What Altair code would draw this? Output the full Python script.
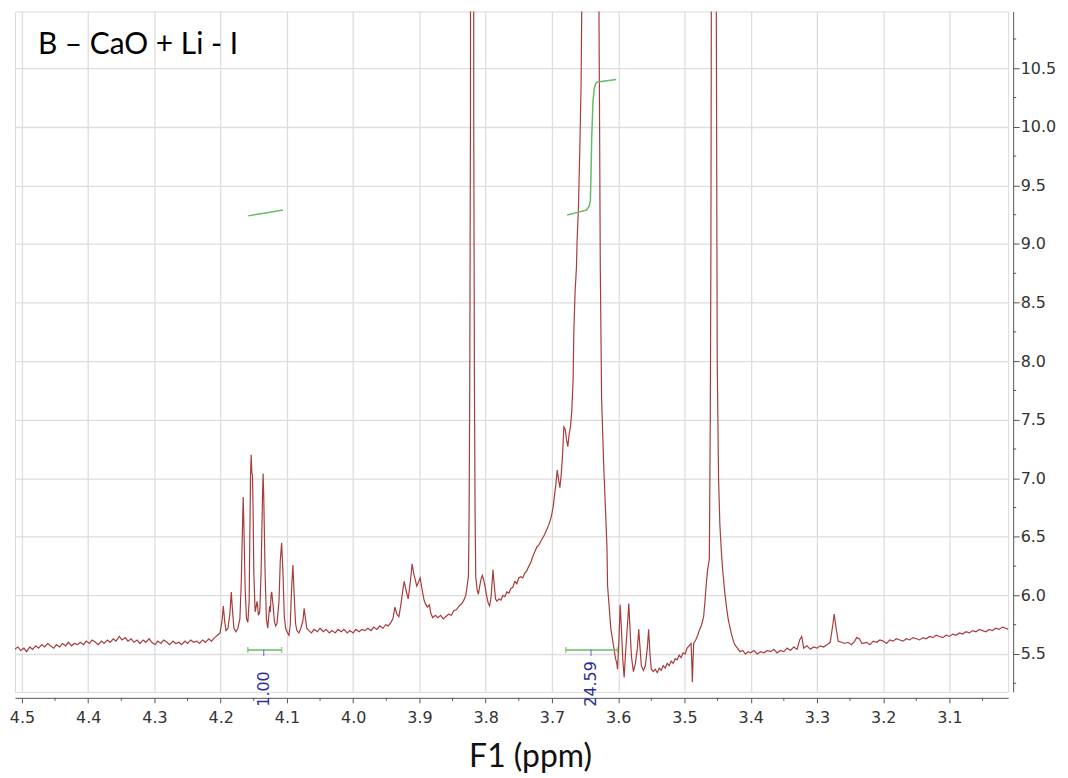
import altair as alt
import pandas as pd

# ---------------- data ----------------
TITLE = "B \u2013 CaO + Li - I"

baseline_left = [
    (4.511, 5.54), (4.506, 5.56), (4.502, 5.53), (4.497, 5.55), (4.493, 5.52), (4.488, 5.56),
    (4.484, 5.54), (4.479, 5.57), (4.475, 5.55), (4.470, 5.58), (4.466, 5.56), (4.461, 5.59),
    (4.457, 5.57), (4.452, 5.55), (4.448, 5.58), (4.443, 5.56), (4.439, 5.59), (4.434, 5.57),
    (4.430, 5.60), (4.425, 5.57), (4.421, 5.59), (4.416, 5.58), (4.412, 5.60), (4.407, 5.58),
    (4.403, 5.61), (4.398, 5.59), (4.394, 5.62), (4.389, 5.60), (4.385, 5.58), (4.380, 5.61),
    (4.376, 5.59), (4.371, 5.62), (4.367, 5.60), (4.362, 5.63), (4.358, 5.61), (4.353, 5.65),
    (4.349, 5.62), (4.344, 5.64), (4.340, 5.61), (4.335, 5.63), (4.331, 5.60), (4.326, 5.62),
    (4.322, 5.59), (4.317, 5.62), (4.313, 5.60), (4.308, 5.63), (4.304, 5.60), (4.299, 5.58),
    (4.295, 5.61), (4.290, 5.59), (4.286, 5.62), (4.281, 5.60), (4.277, 5.58), (4.272, 5.61),
    (4.268, 5.59), (4.263, 5.60), (4.259, 5.58), (4.254, 5.61), (4.250, 5.59), (4.245, 5.62),
    (4.241, 5.60), (4.236, 5.61), (4.232, 5.59), (4.227, 5.62), (4.223, 5.60), (4.218, 5.63),
    (4.214, 5.61), (4.209, 5.64), (4.205, 5.66),
]

multiplet_415 = [
    (4.201, 5.68), (4.198, 5.78), (4.196, 5.91), (4.194, 5.78), (4.192, 5.70), (4.189, 5.72),
    (4.186, 5.85), (4.184, 6.03), (4.182, 5.86), (4.180, 5.72), (4.177, 5.69), (4.174, 5.72),
    (4.171, 5.80), (4.169, 6.10), (4.167, 6.60), (4.166, 6.84), (4.165, 6.60), (4.163, 6.05),
    (4.161, 5.80), (4.159, 5.77), (4.157, 5.95), (4.156, 6.50), (4.155, 7.00), (4.154, 7.20),
    (4.153, 7.05), (4.152, 7.03), (4.151, 6.70), (4.150, 6.20), (4.148, 5.86), (4.146, 5.92),
    (4.145, 5.95), (4.143, 5.83), (4.141, 5.86), (4.139, 6.20), (4.137, 6.80), (4.136, 7.04),
    (4.135, 6.85), (4.133, 6.20), (4.131, 5.80), (4.129, 5.72), (4.127, 5.85), (4.126, 5.91),
    (4.125, 5.86), (4.124, 6.00), (4.123, 6.03), (4.121, 5.92), (4.119, 5.78), (4.117, 5.74),
    (4.115, 5.76), (4.112, 5.95), (4.110, 6.30), (4.108, 6.45), (4.106, 6.20), (4.104, 5.82),
    (4.102, 5.72), (4.099, 5.68), (4.097, 5.66), (4.095, 5.75), (4.093, 6.05), (4.091, 6.26),
    (4.089, 6.00), (4.087, 5.76), (4.085, 5.70), (4.082, 5.68), (4.079, 5.72), (4.076, 5.78),
    (4.074, 5.89), (4.072, 5.80), (4.070, 5.72), (4.067, 5.70),
]

baseline_mid = [
    (4.063, 5.68), (4.059, 5.71), (4.054, 5.69), (4.050, 5.72), (4.045, 5.69), (4.041, 5.71),
    (4.036, 5.68), (4.032, 5.70), (4.027, 5.68), (4.023, 5.71), (4.018, 5.69), (4.014, 5.71),
    (4.009, 5.68), (4.005, 5.70), (4.000, 5.68), (3.996, 5.71), (3.991, 5.69), (3.987, 5.71),
    (3.982, 5.70), (3.978, 5.72), (3.973, 5.70), (3.969, 5.73), (3.964, 5.71), (3.960, 5.74),
    (3.955, 5.72), (3.951, 5.75), (3.947, 5.74),
]

multiplet_391 = [
    (3.943, 5.77), (3.940, 5.80), (3.937, 5.90), (3.934, 5.84), (3.931, 5.82), (3.928, 5.92),
    (3.925, 6.05), (3.923, 6.12), (3.920, 6.04), (3.917, 5.97), (3.914, 6.10), (3.911, 6.27),
    (3.909, 6.20), (3.907, 6.15), (3.904, 6.08), (3.901, 6.12), (3.899, 6.15), (3.896, 6.05),
    (3.893, 5.96), (3.891, 5.93), (3.888, 5.90), (3.885, 5.92), (3.883, 5.85), (3.880, 5.81),
    (3.876, 5.83), (3.872, 5.81), (3.868, 5.83), (3.864, 5.80), (3.860, 5.82),
]

main_peaks = [
    (3.856, 5.84), (3.852, 5.83), (3.848, 5.87), (3.844, 5.88), (3.840, 5.91), (3.836, 5.93),
    (3.833, 5.96), (3.830, 6.00), (3.828, 6.08), (3.826, 6.17), (3.825, 6.70), (3.824, 7.84),
    (3.823, 10.0), (3.821, 40.0), (3.819, 40.0), (3.818, 10.0), (3.817, 7.84), (3.816, 6.70),
    (3.815, 6.16), (3.813, 6.05), (3.811, 6.01), (3.809, 6.08), (3.807, 6.14), (3.805, 6.17),
    (3.803, 6.13), (3.801, 6.08), (3.799, 6.01), (3.796, 5.93), (3.794, 5.91), (3.792, 5.98),
    (3.790, 6.13), (3.789, 6.22), (3.787, 6.08), (3.785, 5.97), (3.783, 5.95), (3.780, 5.97),
    (3.777, 5.96), (3.774, 6.00), (3.771, 5.99), (3.768, 6.03), (3.765, 6.02), (3.762, 6.06),
    (3.759, 6.07), (3.756, 6.12), (3.753, 6.10), (3.750, 6.15), (3.747, 6.16), (3.744, 6.15),
    (3.741, 6.19), (3.738, 6.21), (3.735, 6.25), (3.732, 6.28), (3.729, 6.33), (3.726, 6.37),
    (3.723, 6.41), (3.720, 6.43), (3.717, 6.46), (3.714, 6.49), (3.711, 6.52), (3.708, 6.56),
    (3.705, 6.60), (3.702, 6.65), (3.700, 6.70), (3.698, 6.76), (3.696, 6.86), (3.694, 6.95),
    (3.692, 7.07), (3.690, 6.99), (3.688, 6.92), (3.686, 7.03), (3.684, 7.20), (3.682, 7.44),
    (3.680, 7.42), (3.678, 7.33), (3.676, 7.27), (3.674, 7.38), (3.672, 7.44), (3.670, 7.58),
    (3.668, 7.84), (3.667, 8.24), (3.665, 8.60), (3.663, 8.80), (3.662, 9.03), (3.660, 9.31),
    (3.658, 9.79), (3.656, 10.36), (3.655, 11.0), (3.652, 14.0), (3.645, 25.0), (3.640, 30.0),
    (3.635, 25.0), (3.630, 14.0), (3.629, 11.0), (3.628, 9.94), (3.627, 8.80), (3.625, 7.67),
    (3.624, 7.50), (3.622, 7.13), (3.621, 6.99), (3.619, 6.71), (3.617, 6.42), (3.616, 6.08),
    (3.613, 5.86), (3.611, 5.71), (3.607, 5.57), (3.604, 5.46), (3.602, 5.42), (3.601, 5.37),
]

multiplet_358_and_345 = [
    (3.599, 5.60), (3.597, 5.92), (3.595, 5.70), (3.593, 5.45), (3.591, 5.30), (3.589, 5.50),
    (3.586, 5.75), (3.584, 5.93), (3.582, 5.70), (3.580, 5.48), (3.577, 5.35), (3.574, 5.42),
    (3.571, 5.55), (3.569, 5.71), (3.567, 5.55), (3.565, 5.40), (3.562, 5.36), (3.559, 5.40),
    (3.556, 5.55), (3.554, 5.71), (3.552, 5.50), (3.550, 5.37), (3.547, 5.35), (3.544, 5.37),
    (3.541, 5.34), (3.538, 5.38), (3.535, 5.36), (3.532, 5.40), (3.529, 5.38), (3.526, 5.42),
    (3.523, 5.40), (3.520, 5.44), (3.517, 5.42), (3.514, 5.46), (3.511, 5.45), (3.508, 5.49),
    (3.505, 5.47), (3.502, 5.51), (3.499, 5.50), (3.496, 5.55), (3.493, 5.57), (3.490, 5.59),
    (3.489, 5.45), (3.488, 5.26), (3.487, 5.45), (3.486, 5.59), (3.483, 5.62), (3.480, 5.66),
    (3.477, 5.71), (3.474, 5.75), (3.471, 5.82), (3.469, 5.95), (3.467, 6.10), (3.465, 6.22),
    (3.4624, 6.31), (3.461, 7.5), (3.460, 9.0), (3.4594, 11.0), (3.456, 40.0), (3.4519, 11.0),
    (3.4505, 8.0), (3.4485, 7.0), (3.4465, 6.6), (3.444, 6.35), (3.442, 6.20), (3.439, 6.02),
    (3.436, 5.88), (3.434, 5.80), (3.431, 5.72), (3.429, 5.67), (3.426, 5.61), (3.424, 5.58),
    (3.420, 5.55), (3.416, 5.52), (3.412, 5.53), (3.408, 5.50), (3.404, 5.52),
]

baseline_right = [
    (3.400, 5.51), (3.395, 5.53), (3.390, 5.50), (3.385, 5.52), (3.380, 5.51), (3.375, 5.53),
    (3.370, 5.52), (3.365, 5.54), (3.360, 5.51), (3.355, 5.53), (3.350, 5.52), (3.345, 5.55),
    (3.340, 5.53), (3.335, 5.56), (3.330, 5.54), (3.326, 5.62), (3.323, 5.65), (3.320, 5.55),
    (3.315, 5.57), (3.310, 5.54), (3.305, 5.56), (3.300, 5.55), (3.295, 5.57), (3.290, 5.56),
    (3.285, 5.58), (3.280, 5.60), (3.276, 5.75), (3.274, 5.84), (3.271, 5.72), (3.268, 5.61),
    (3.263, 5.60), (3.258, 5.59), (3.253, 5.60), (3.248, 5.58), (3.243, 5.61), (3.240, 5.64),
    (3.236, 5.63), (3.232, 5.59), (3.225, 5.60), (3.220, 5.58), (3.215, 5.61), (3.210, 5.60),
    (3.205, 5.62), (3.200, 5.61), (3.195, 5.59), (3.190, 5.62), (3.185, 5.61), (3.180, 5.63),
    (3.175, 5.62), (3.170, 5.61), (3.165, 5.63), (3.160, 5.62), (3.155, 5.64), (3.150, 5.63),
    (3.145, 5.62), (3.140, 5.64), (3.135, 5.63), (3.130, 5.65), (3.125, 5.64), (3.120, 5.66),
    (3.115, 5.65), (3.110, 5.64), (3.105, 5.66), (3.100, 5.65), (3.095, 5.67), (3.090, 5.66),
    (3.085, 5.68), (3.080, 5.67), (3.075, 5.69), (3.070, 5.68), (3.065, 5.70), (3.060, 5.69),
    (3.055, 5.71), (3.050, 5.70), (3.045, 5.69), (3.040, 5.71), (3.035, 5.70), (3.030, 5.72),
    (3.025, 5.71), (3.020, 5.73), (3.015, 5.72), (3.011, 5.71),
]

integral_1 = [(4.159, 9.24), (4.132, 9.265), (4.106, 9.29)]
integral_2 = [
    (3.677, 9.247), (3.661, 9.270), (3.648, 9.290), (3.644, 9.320), (3.642, 9.370),
    (3.641, 9.600), (3.640, 9.900), (3.638, 10.220), (3.636, 10.330), (3.634, 10.370),
    (3.631, 10.383), (3.603, 10.404),
]

int_from = [4.159, 3.679]
int_to = [4.108, 3.601]
int_mid = [4.135, 3.641]
int_label = ["1.00", "24.59"]

X_MAJOR = [4.5, 4.4, 4.3, 4.2, 4.1, 4.0, 3.9, 3.8, 3.7, 3.6, 3.5, 3.4, 3.3, 3.2, 3.1]
X_MINOR = [4.45, 4.35, 4.25, 4.15, 4.05, 3.95, 3.85, 3.75, 3.65, 3.55, 3.45, 3.35, 3.25,
           3.15, 3.05]
Y_MAJOR = [5.5, 6.0, 6.5, 7.0, 7.5, 8.0, 8.5, 9.0, 9.5, 10.0, 10.5]
Y_MINOR = [5.25, 5.75, 6.25, 6.75, 7.25, 7.75, 8.25, 8.75, 9.25, 9.75, 10.25, 10.75]

X_DOMAIN = [3.0113, 4.5105]
Y_DOMAIN = [5.177, 10.985]

# ---------------- styles ----------------
RED = "#a83c3c"
GREEN = "#66bb66"
BLUE = "#2c2c99"
GRID = "#dddddd"
AXIS = "#555555"
BRACKET_LEVEL = 5.534
LABEL_BASE = 5.05
W, H = 997, 683
X_OFF, Y_OFF = 6, 5

spectrum = pd.DataFrame(
    baseline_left + multiplet_415 + baseline_mid + multiplet_391 + main_peaks
    + multiplet_358_and_345 + baseline_right,
    columns=["ppm", "val"],
)
integrals = pd.concat([
    pd.DataFrame(integral_1, columns=["ppm", "val"]).assign(id="a"),
    pd.DataFrame(integral_2, columns=["ppm", "val"]).assign(id="b"),
])
brackets = pd.DataFrame({"ppm": int_from, "p2": int_to, "mid": int_mid, "label": int_label})
caps = pd.DataFrame({"ppm": int_from + int_to})
x_minor = pd.DataFrame({"ppm": X_MINOR})
y_minor = pd.DataFrame({"val": Y_MINOR})

x_scale = alt.Scale(domain=X_DOMAIN, reverse=True, nice=False, zero=False)
y_scale = alt.Scale(domain=Y_DOMAIN, nice=False, zero=False)

x_axis = alt.Axis(
    orient="bottom", offset=X_OFF, values=X_MAJOR, format=".1f", tickSize=5,
    grid=True, gridColor=GRID, gridWidth=1.3,
    domainColor=AXIS, tickColor=AXIS, labelColor="#333333",
    labelFont="DejaVu Sans", labelFontSize=16, labelPadding=7,
    labelFlush=False, labelOverlap=False,
    title="F1 (ppm)", titleFont="Lato", titleFontSize=32, titleFontWeight="normal",
    titleColor="#111111", titleX=517, titleY=69, titleBaseline="alphabetic",
)
y_axis = alt.Axis(
    orient="right", offset=Y_OFF, values=Y_MAJOR, format=".1f", tickSize=6,
    grid=True, gridColor=GRID, gridWidth=1.3,
    domainColor=AXIS, tickColor=AXIS, labelColor="#333333",
    labelFont="DejaVu Sans", labelFontSize=16, labelPadding=1,
    labelOverlap=False, title="",
)

line = alt.Chart(spectrum).mark_line(color=RED, strokeWidth=1.2, clip=True).encode(
    x=alt.X("ppm:Q", scale=x_scale, axis=x_axis),
    y=alt.Y("val:Q", scale=y_scale, axis=y_axis),
)

x_minor_ticks = alt.Chart(x_minor).mark_rule(color=AXIS, strokeWidth=1).encode(
    x=alt.X("ppm:Q"),
    y=alt.value(H + X_OFF),
    y2=alt.value(H + X_OFF + 3),
)
y_minor_ticks = alt.Chart(y_minor).mark_rule(color=AXIS, strokeWidth=1).encode(
    y=alt.Y("val:Q"),
    x=alt.value(W + Y_OFF),
    x2=alt.value(W + Y_OFF + 3),
)

integral_lines = alt.Chart(integrals).mark_line(color=GREEN, strokeWidth=1.5).encode(
    x=alt.X("ppm:Q"),
    y=alt.Y("val:Q"),
    detail="id:N",
)

bracket_rules = alt.Chart(brackets).mark_rule(color=GREEN, strokeWidth=1.5).encode(
    x=alt.X("ppm:Q"),
    x2="p2:Q",
    y=alt.datum(BRACKET_LEVEL),
)
bracket_caps = alt.Chart(caps).mark_tick(
    color=GREEN, orient="vertical", size=6, thickness=1.5
).encode(
    x=alt.X("ppm:Q"),
    y=alt.datum(BRACKET_LEVEL),
)
bracket_ticks = alt.Chart(brackets).mark_tick(
    color=BLUE, orient="vertical", size=6, thickness=1
).encode(
    x=alt.X("mid:Q"),
    y=alt.datum(BRACKET_LEVEL),
    yOffset=alt.value(3),
)
bracket_labels = alt.Chart(brackets).mark_text(
    angle=270, align="left", baseline="middle", color=BLUE,
    font="DejaVu Sans", fontSize=16,
).encode(
    x=alt.X("mid:Q"),
    y=alt.datum(LABEL_BASE),
    text="label:N",
)

title_text = alt.Chart(pd.DataFrame({"t": [TITLE]})).mark_text(
    align="left", baseline="alphabetic", font="Lato", fontSize=30, color="#000000",
).encode(
    text="t:N",
    x=alt.value(23),
    y=alt.value(43),
)

chart = alt.layer(
    line, x_minor_ticks, y_minor_ticks, integral_lines, bracket_rules, bracket_caps,
    bracket_ticks, bracket_labels, title_text
).properties(
    width=W, height=H,
    autosize=alt.AutoSizeParams(type="none"),
    padding={"left": 7, "top": 2, "right": 52, "bottom": 80},
    background="white",
).configure_view(
    stroke="#d9d9d9", strokeWidth=1,
)

chart.save("out.html", embed_options={"renderer": "svg", "actions": False})
